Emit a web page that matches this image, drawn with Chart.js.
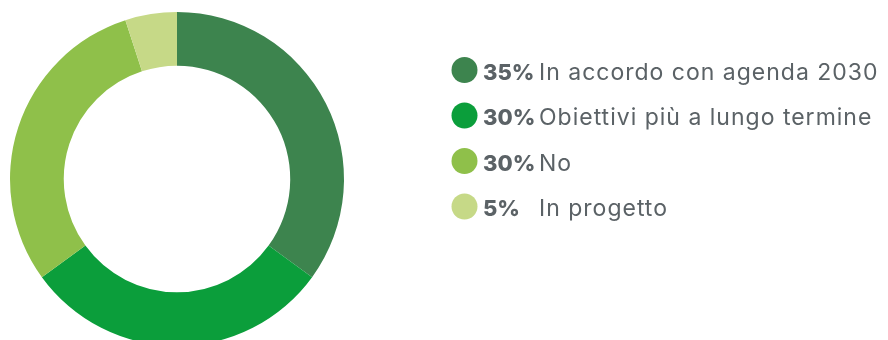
<!DOCTYPE html>
<html lang="it">
<head>
    <meta charset="UTF-8">
    <title>Agenda 2030</title>
    <script src="https://cdn.jsdelivr.net/npm/chart.js"></script>
    <style>
        * { margin: 0; padding: 0; box-sizing: border-box; }
        body { width: 888px; height: 340px; overflow: hidden; background: #fff; }
        #wrap { width: 888px; height: 340px; overflow: hidden; }
    </style>
</head>
<body>
    <div id="wrap">
        <canvas id="donut" width="888" height="346"></canvas>
    </div>

    <script>
        // data
        const labels = ['In accordo con agenda 2030', 'Obiettivi più a lungo termine', 'No', 'In progetto'];
        const values = [35, 30, 30, 5];
        const colors = ['#3d844e', '#0b9e3b', '#8fc04a', '#c6d987'];

        const textFont = '"Inter", "Open Sans", sans-serif';

        // legend drawn on the canvas, to the right of the ring
        const sideLegend = {
            id: 'sideLegend',
            afterDraw(chart) {
                const ctx = chart.ctx;
                ctx.save();
                labels.forEach((label, i) => {
                    const y = 70 + i * 45.5;
                    ctx.fillStyle = colors[i];
                    ctx.beginPath();
                    ctx.arc(464.5, y, 13, 0, Math.PI * 2);
                    ctx.fill();

                    ctx.fillStyle = '#5b6266';
                    ctx.textBaseline = 'alphabetic';
                    ctx.letterSpacing = '0px';
                    ctx.font = '800 22px ' + textFont;
                    ctx.fillText(values[i] + '%', 483, y + 9.5);
                    ctx.letterSpacing = '1px';
                    ctx.font = '400 23px ' + textFont;
                    ctx.fillText(label, 539, y + 9.5);
                });
                ctx.restore();
            }
        };

        new Chart(document.getElementById('donut'), {
            type: 'doughnut',
            data: {
                labels: labels,
                datasets: [{
                    data: values,
                    backgroundColor: colors,
                    borderWidth: 0
                }]
            },
            options: {
                responsive: false,
                animation: false,
                cutout: '67.8%',
                layout: { padding: { left: 10, top: 12, right: 544, bottom: 0 } },
                plugins: {
                    legend: { display: false },
                    tooltip: { enabled: false }
                }
            },
            plugins: [sideLegend]
        });
    </script>
</body>
</html>
